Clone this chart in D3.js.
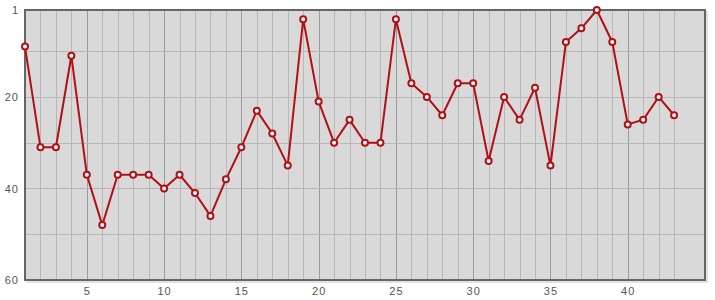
<!DOCTYPE html>
<html>
<head>
<meta charset="utf-8">
<script src="https://cdn.jsdelivr.net/npm/d3@7"></script>
<style>
  body { margin: 0; background: #fff; }
</style>
</head>
<body>
<svg id="chart"></svg>
<script>
// values
const positions = [9, 31, 31, 11, 37, 48, 37, 37, 37, 40, 37, 41, 46, 38, 31, 23, 28, 35, 3, 21,
  30, 25, 30, 30, 3, 17, 20, 24, 17, 17, 34, 20, 25, 18, 35, 8, 5, 1, 8, 26, 25, 20, 24];
const xTickLabels = [5, 10, 15, 20, 25, 30, 35, 40];
const yTickLabels = [1, 20, 40, 60];
const yGrid = [10, 20, 30, 40, 50];

const width = 715,
  height = 300;
const plotLeft = 25,
  plotRight = 705,
  plotTop = 10,
  plotBottom = 280;

const svg = d3.select("#chart").attr("width", width).attr("height", height);

const x = d3.scaleLinear().domain([1, 45]).range([plotLeft, plotRight]);
const y = d3.scaleLinear().domain([1, 60]).range([plotTop, plotBottom]);

// plot background
svg.append("rect")
  .attr("x", plotLeft).attr("y", plotTop)
  .attr("width", plotRight - plotLeft).attr("height", plotBottom - plotTop)
  .attr("fill", "#d9d9d9");

// vertical grid, every integer, darker every 5
const xs = d3.range(2, 44);
svg.append("g")
  .selectAll("line")
  .data(xs)
  .enter()
  .append("line")
  .attr("x1", function(d) { return Math.round(x(d)) + 0.5; })
  .attr("x2", function(d) { return Math.round(x(d)) + 0.5; })
  .attr("y1", plotTop).attr("y2", plotBottom)
  .attr("stroke", function(d) { return d % 5 === 0 ? "#9a9a9a" : "#b8b8b8"; })
  .attr("stroke-width", 1);

// horizontal grid
svg.append("g")
  .selectAll("line")
  .data(yGrid)
  .enter()
  .append("line")
  .attr("x1", plotLeft).attr("x2", plotRight)
  .attr("y1", function(d) { return Math.round(y(d)) + 0.5; })
  .attr("y2", function(d) { return Math.round(y(d)) + 0.5; })
  .attr("stroke", "#b8b8b8");

// frame with a light shadow at right/bottom
svg.append("path")
  .attr("d", "M" + (plotRight + 2) + "," + (plotTop + 1) + "V" + (plotBottom + 2) + "H" + (plotLeft + 1))
  .attr("fill", "none").attr("stroke", "#c4c4c4").attr("stroke-width", 1);
svg.append("rect")
  .attr("x", plotLeft).attr("y", plotTop)
  .attr("width", plotRight - plotLeft).attr("height", plotBottom - plotTop)
  .attr("fill", "none").attr("stroke", "#666").attr("stroke-width", 2);

// axes labels
function styleLabels(g) {
  g.select(".domain").remove();
  g.selectAll("text")
    .style("font-family", "Liberation Sans, Arial, sans-serif")
    .style("font-size", "11px")
    .style("letter-spacing", "1px")
    .attr("fill", "#555");
}

const xAxis = d3.axisBottom(x).tickValues(xTickLabels).tickSize(0).tickPadding(6);
svg.append("g")
  .attr("transform", "translate(0," + (plotBottom + 1) + ")")
  .call(xAxis)
  .call(styleLabels);

const yAxis = d3.axisLeft(y).tickValues(yTickLabels).tickSize(0).tickPadding(6);
svg.append("g")
  .attr("transform", "translate(" + plotLeft + ",0)")
  .call(yAxis)
  .call(styleLabels);

// line
const line = d3.line()
  .x(function(d, i) { return x(i + 1); })
  .y(function(d) { return y(d); });

svg.append("path")
  .datum(positions)
  .attr("d", line)
  .attr("fill", "none")
  .attr("stroke", "#b01016")
  .attr("stroke-width", 2)
  .attr("stroke-linejoin", "round");

svg.append("g")
  .selectAll("circle")
  .data(positions)
  .enter()
  .append("circle")
  .attr("cx", function(d, i) { return x(i + 1); })
  .attr("cy", function(d) { return y(d); })
  .attr("r", 3)
  .attr("fill", "#fff")
  .attr("stroke", "#b01016")
  .attr("stroke-width", 2);
</script>
</body>
</html>
